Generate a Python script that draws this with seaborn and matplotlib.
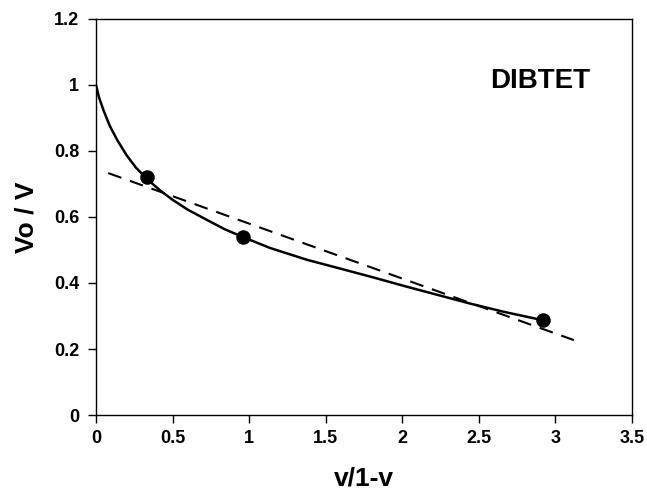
import matplotlib
matplotlib.use("Agg")
import matplotlib.pyplot as plt
import seaborn as sns
import pandas as pd

# Data
pts_x = [0.33, 0.96, 2.92]
pts_y = [0.72, 0.54, 0.287]

curve_x = [0.0, 0.02, 0.05, 0.09, 0.14, 0.20, 0.26, 0.333, 0.42, 0.50, 0.60, 0.725,
           0.84, 0.961, 1.137, 1.38, 1.60, 1.81, 2.02, 2.23, 2.44, 2.66, 2.88, 2.93]
curve_y = [1.0, 0.962, 0.922, 0.876, 0.832, 0.787, 0.750, 0.715, 0.680, 0.652, 0.622,
           0.591, 0.563, 0.539, 0.506, 0.470, 0.443, 0.417, 0.390, 0.364, 0.338, 0.313,
           0.291, 0.287]

fit_x = [0.08, 3.12]
fit_y = [0.733, 0.227]

x_ticks = [0, 0.5, 1, 1.5, 2, 2.5, 3, 3.5]
x_ticklabels = ["0", "0.5", "1", "1.5", "2", "2.5", "3", "3.5"]
y_ticks = [0, 0.2, 0.4, 0.6, 0.8, 1.0, 1.2]
y_ticklabels = ["0", "0.2", "0.4", "0.6", "0.8", "1", "1.2"]

sns.set_theme(style="ticks")
plt.rcParams["font.family"] = ["Liberation Sans", "DejaVu Sans"]
plt.rcParams["lines.scale_dashes"] = False

fig = plt.figure(figsize=(6.47, 4.92), dpi=100)
ax = fig.add_axes([0.1484, 0.1565, 0.9768 - 0.1484, 0.9614 - 0.1565])

curve_df = pd.DataFrame({"x": curve_x, "y": curve_y})
fit_df = pd.DataFrame({"x": fit_x, "y": fit_y})
pts_df = pd.DataFrame({"x": pts_x, "y": pts_y})

sns.lineplot(data=curve_df, x="x", y="y", ax=ax, color="black", linewidth=1.8,
             sort=False, estimator=None)
sns.lineplot(data=fit_df, x="x", y="y", ax=ax, color="black", linewidth=1.5,
             sort=False, estimator=None)
ax.lines[-1].set_dashes((10, 6.5))
sns.scatterplot(data=pts_df, x="x", y="y", ax=ax, color="black", s=110,
                edgecolor="black", linewidth=0, zorder=5)

ax.set_xlim(0, 3.5)
ax.set_ylim(0, 1.2)
ax.set_xticks(x_ticks)
ax.set_xticklabels(x_ticklabels)
ax.set_yticks(y_ticks)
ax.set_yticklabels(y_ticklabels)
for lab in ax.get_xticklabels() + ax.get_yticklabels():
    lab.set_fontsize(13)
    lab.set_fontweight("bold")
    lab.set_color("black")

ax.tick_params(axis="x", direction="out", length=6, width=1, color="black", pad=5)
ax.tick_params(axis="y", direction="out", length=6, width=1, color="black", pad=6)
for sp in ax.spines.values():
    sp.set_visible(True)
    sp.set_color("black")
    sp.set_linewidth(1.0)

ax.set_xlabel("v/1-v", fontsize=19, fontweight="bold", color="black", labelpad=14)
ax.set_ylabel("Vo / V", fontsize=19, fontweight="bold", color="black", labelpad=11)

ax.text(2.575, 0.991, "DIBTET", fontsize=20, fontweight="bold", color="black",
        ha="left", va="baseline")

fig.savefig("out.png", dpi=100, facecolor="white")
